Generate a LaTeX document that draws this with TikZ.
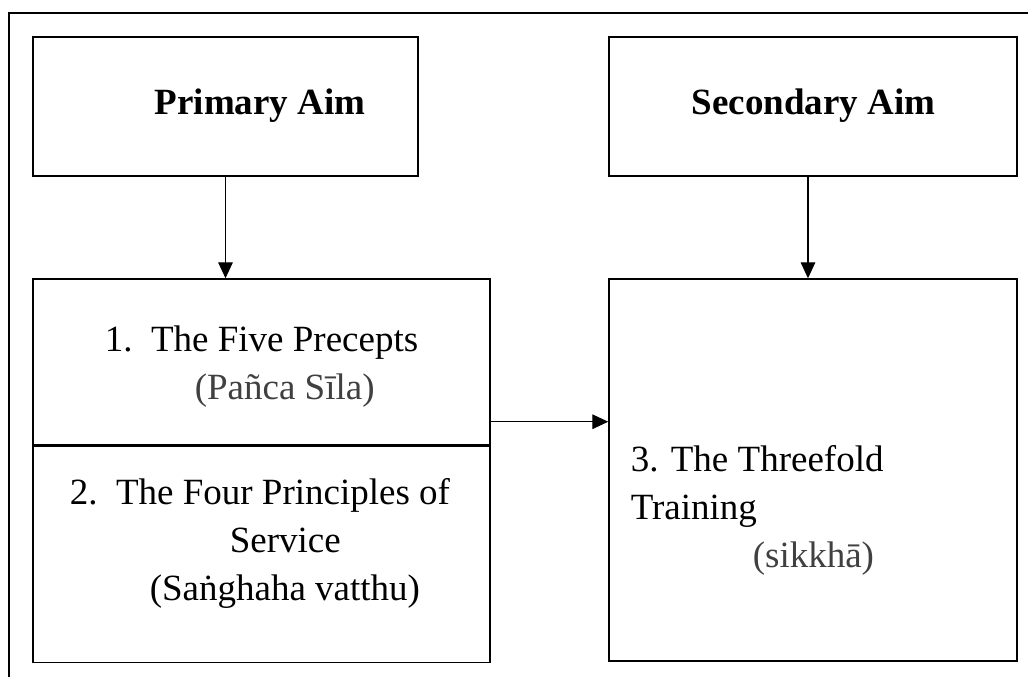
\documentclass[tikz,border=0pt]{standalone}
\usepackage{fontspec}
\setmainfont{Liberation Serif}
\usetikzlibrary{positioning, calc, arrows.meta}

\begin{document}
\begin{tikzpicture}[x=0.75pt, y=-0.75pt, line width=0.8pt, font=\fontsize{27.75}{36}\selectfont]
    \tikzstyle{block}=[draw=black, rectangle, line width=1.1pt, inner sep=0pt]
    \tikzstyle{head}=[font=\fontsize{27.75}{36}\selectfont\bfseries, inner sep=0pt, anchor=base west]
    \tikzstyle{txt}=[inner sep=0pt, anchor=base west, align=left]
    \tikzstyle{arr}=[-{Triangle[length=12pt, width=11pt]}]
    \newcommand{\pali}[1]{{\color{black!75}#1}}

    \useasboundingbox (0,0) rectangle (1028,677);
    \draw[line width=1.1pt] (9,677) -- (9,13) -- (1028,13);

    %% Aims
    \node[block, minimum width=288.75pt, minimum height=104.25pt] (primary) at (225.5,106.5) {};
    \node[block, minimum width=306pt, minimum height=104.25pt] (secondary) at (813,106.5) {};

    %% Means
    \node[block, minimum width=342.75pt, minimum height=124.5pt] (five) at (261.5,362) {};
    \node[block, minimum width=342.75pt, minimum height=162pt, below=0pt of five] (four) {};
    \node[block, minimum width=306pt, minimum height=286.5pt] (three) at (813,470) {};

    %% Labels (base = last line)
    \node[head] (primarytxt) at ($(primary.north west)+(122,78)$) {Primary Aim};
    \node[head] (secondarytxt) at ($(secondary.north west)+(83,78)$) {Secondary Aim};
    \node[txt] (fivetxt) at ($(five.north west)+(72,121)$) {1.\ \ The Five Precepts\\ \hspace*{67.5pt}\pali{(Pañca Sīla)}};
    \node[txt] (fourtxt) at ($(four.north west)+(37,155)$) {2.\ \ The Four Principles of\\ \hspace*{120pt}Service\\ \hspace*{60pt}(Saṅghaha vatthu)};
    \node[txt] (threetxt) at ($(three.north west)+(22,289)$) {3. The Threefold\\ Training\\ \hspace*{91.5pt}\pali{(sikkhā)}};

    %% Links
    \coordinate (link) at ($(five.south east)+(0,-24)$);
    \draw[arr] (primary.south) -- (primary.south |- five.north);
    \draw[arr] ([xshift=-3.75pt]secondary.south) -- ([xshift=-3.75pt]three.north);
    \draw[arr] (link) -- (link -| three.west);
\end{tikzpicture}
\end{document}
